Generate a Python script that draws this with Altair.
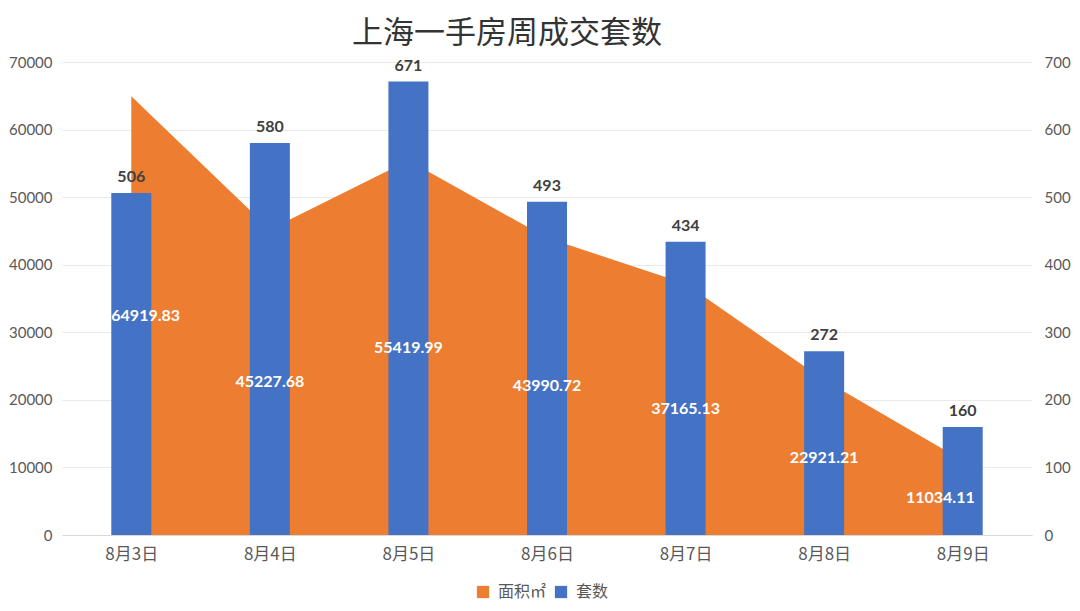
import altair as alt
import pandas as pd

dates = ["8月3日", "8月4日", "8月5日", "8月6日", "8月7日", "8月8日", "8月9日"]
area_values = [64919.83, 45227.68, 55419.99, 43990.72, 37165.13, 22921.21, 11034.11]
count_values = [506, 580, 671, 493, 434, 272, 160]
series_names = ["面积㎡", "套数"]
series_colors = ["#ED7D31", "#4472C4"]

df = pd.DataFrame({"date": dates, "area": area_values, "count": count_values})
df["area_label"] = [f"{v:.2f}" for v in area_values]
df["s_area"] = series_names[0]
df["s_count"] = series_names[1]

FONT = "Lato, Noto Sans CJK SC"

x_enc = alt.X("date:N", sort=dates,
              scale=alt.Scale(type="point", padding=0.5),
              axis=alt.Axis(title=None, labelAngle=0, ticks=False, labelPadding=11,
                            domainColor="#D9D9D9", labelColor="#595959", labelFontSize=17,
                            labelFont="Noto Sans CJK SC", grid=False))

color_scale = alt.Scale(domain=series_names, range=series_colors)

base = alt.Chart(df)

left_axis = alt.Axis(title=None, values=list(range(0, 70001, 10000)), format="d",
                     domain=False, ticks=False, labelPadding=10,
                     gridColor="#E9E9E9", labelColor="#595959", labelFontSize=15,
                     labelFont=FONT)
right_axis = alt.Axis(title=None, orient="right", values=list(range(0, 701, 100)),
                      format="d", domain=False, ticks=False, grid=False,
                      labelPadding=12, labelColor="#595959", labelFontSize=15,
                      labelFont=FONT)
right_scale = alt.Scale(domain=[0, 700], nice=False)

area = base.mark_area(opacity=1).encode(
    x=x_enc,
    y=alt.Y("area:Q", scale=alt.Scale(domain=[0, 70000], nice=False), axis=left_axis),
    color=alt.Color("s_area:N", scale=color_scale,
                    legend=alt.Legend(title=None, orient="none", legendX=413, legendY=522,
                                      direction="horizontal", symbolType="square",
                                      symbolSize=150, labelFontSize=16, labelColor="#595959",
                                      labelFont="Noto Sans CJK SC", columnPadding=6,
                                      labelOffset=7, symbolStrokeWidth=0)),
)

bars = base.mark_bar(size=40).encode(
    x=x_enc,
    y=alt.Y("count:Q", scale=right_scale, axis=right_axis),
    color=alt.Color("s_count:N", scale=color_scale),
)

bar_labels = base.mark_text(dy=-16, fontSize=16, fontWeight="bold", color="#404040",
                            font=FONT).encode(
    x=x_enc,
    y=alt.Y("count:Q", scale=right_scale, axis=right_axis),
    text=alt.Text("count:Q"),
)

# area labels sit at half of the area value; expressed on the right (0-700) scale,
# which is proportional to the left (0-70000) scale
label_base = base.transform_calculate(half_r="datum.area / 200")
label_y = alt.Y("half_r:Q", scale=right_scale, axis=right_axis)
edge = [dates[0], dates[-1]]

area_labels = label_base.transform_filter(
    alt.FieldOneOfPredicate(field="date", oneOf=dates[1:-1])).mark_text(
    fontSize=16, fontWeight="bold", color="white", font=FONT).encode(
    x=x_enc, y=label_y, text="area_label:N",
)

first_label = label_base.transform_filter(alt.datum.date == dates[0]).mark_text(
    fontSize=16, fontWeight="bold", color="white", font=FONT, align="left", dx=-20).encode(
    x=x_enc, y=label_y, text="area_label:N",
)

last_label = label_base.transform_filter(alt.datum.date == dates[-1]).mark_text(
    fontSize=16, fontWeight="bold", color="white", font=FONT, align="right", dx=12).encode(
    x=x_enc, y=label_y, text="area_label:N",
)

right = alt.layer(bars, bar_labels, area_labels, first_label, last_label)

chart = alt.layer(area, right).resolve_scale(y="independent").properties(
    width=970, height=473,
    title=alt.TitleParams("上海一手房周成交套数", fontSize=31, font="Noto Sans CJK SC",
                          fontWeight="normal", color="#333333", anchor="middle", offset=5,
                          dx=-40),
    autosize=alt.AutoSizeParams(type="none"),
    padding={"left": 54, "top": 54, "right": 40, "bottom": 72},
).configure_view(stroke=None)

chart.save("out.html", embed_options={"renderer": "svg", "actions": False})
